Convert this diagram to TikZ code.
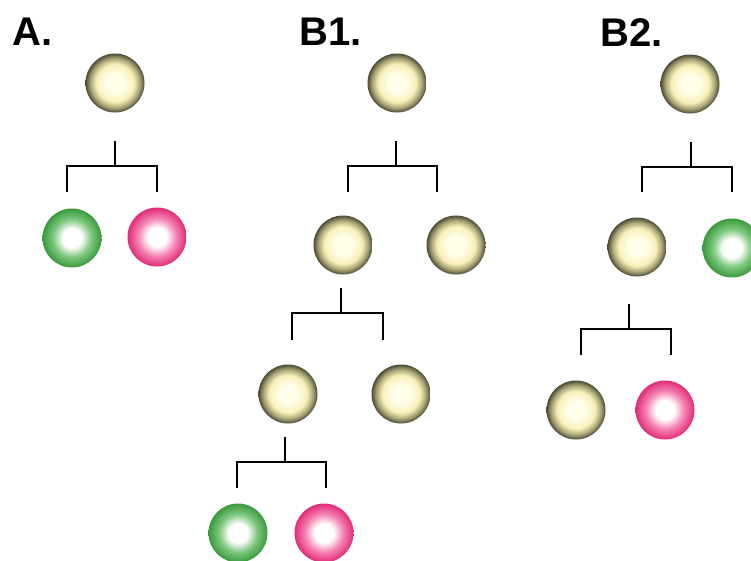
\documentclass[tikz,border=0pt]{standalone}
\usepackage{fontspec}
\usepackage{xcolor}
\setmainfont{Liberation Sans}

\definecolor{creamcore}{HTML}{FFFEE8}
\definecolor{creamring}{HTML}{F8F0B8}
\definecolor{olivemid}{HTML}{A8A476}
\definecolor{oliveedge}{HTML}{4C4B36}
\definecolor{greenmid}{HTML}{80C880}
\definecolor{greenedge}{HTML}{3A9A3C}
\definecolor{pinkmid}{HTML}{F584B4}
\definecolor{pinkedge}{HTML}{E02C78}

\pgfdeclareradialshading{olivecell}{\pgfpoint{0bp}{0bp}}{color(0bp)=(creamcore); color(8bp)=(creamcore); color(16bp)=(creamring); color(21bp)=(olivemid); color(25bp)=(oliveedge); color(50bp)=(oliveedge)}
\pgfdeclareradialshading{greencell}{\pgfpoint{0bp}{0bp}}{color(0bp)=(white); color(8bp)=(white); color(16bp)=(greenmid); color(25bp)=(greenedge); color(50bp)=(greenedge)}
\pgfdeclareradialshading{pinkcell}{\pgfpoint{0bp}{0bp}}{color(0bp)=(white); color(8bp)=(white); color(16bp)=(pinkmid); color(25bp)=(pinkedge); color(50bp)=(pinkedge)}

\begin{document}
\begin{tikzpicture}[
      x = 1pt, y = -1pt,
      cell/.style = {circle, minimum size = 59pt, inner sep = 0pt},
      olive/.style = {cell, shading = olivecell},
      green/.style = {cell, shading = greencell},
      pink/.style = {cell, shading = pinkcell},
      title/.style = {anchor = base west, inner sep = 0pt, font = \bfseries\fontsize{40}{40}\selectfont},
      fork/.style = {line width = 2.4pt}
      ]
      \useasboundingbox (0,0) rectangle (751,560);
      \clip (0,0) rectangle (751,560);

      % labels
      \node[title] (tA) at (12,45) {A.};
      \node[title] (tB1) at (299,45) {B1.};
      \node[title] (tB2) at (600,46) {B2.};

      % A
      \node[olive] (a0) at (115,83) {};
      \node[green] (a1) at (72,238) {};
      \node[pink] (a2) at (157,237) {};
      \coordinate (a0s) at (115,141);
      \coordinate (a1n) at (67,192);
      \coordinate (a2n) at (157,192);
      \draw[fork] (a0s) -- (a0s |- 0,166) -| (a1n);
      \draw[fork] (a0s |- 0,166) -| (a2n);

      % B1
      \node[olive] (b0) at (397,83) {};
      \node[olive] (b1) at (343,245) {};
      \node[olive] (b2) at (456,245) {};
      \node[olive] (b11) at (288,394) {};
      \node[olive] (b12) at (401,394) {};
      \node[green] (b111) at (238,533) {};
      \node[pink] (b112) at (324,533) {};
      \coordinate (b0s) at (396,141);
      \coordinate (b1n) at (348,192);
      \coordinate (b2n) at (437,192);
      \draw[fork] (b0s) -- (b0s |- 0,166) -| (b1n);
      \draw[fork] (b0s |- 0,166) -| (b2n);
      \coordinate (b1s) at (341,288);
      \coordinate (b11n) at (292,340);
      \coordinate (b12n) at (383,340);
      \draw[fork] (b1s) -- (b1s |- 0,313) -| (b11n);
      \draw[fork] (b1s |- 0,313) -| (b12n);
      \coordinate (b11s) at (285,437);
      \coordinate (b111n) at (237,488);
      \coordinate (b112n) at (326,488);
      \draw[fork] (b11s) -- (b11s |- 0,462) -| (b111n);
      \draw[fork] (b11s |- 0,462) -| (b112n);

      % B2
      \node[olive] (c0) at (690,84) {};
      \node[olive] (c1) at (637,247) {};
      \node[green] (c2) at (732,248) {};
      \node[olive] (c11) at (576,410) {};
      \node[pink] (c12) at (665,410) {};
      \coordinate (c0s) at (691,142);
      \coordinate (c1n) at (642,192);
      \coordinate (c2n) at (732,192);
      \draw[fork] (c0s) -- (c0s |- 0,167) -| (c1n);
      \draw[fork] (c0s |- 0,167) -| (c2n);
      \coordinate (c1s) at (629,304);
      \coordinate (c11n) at (581,355);
      \coordinate (c12n) at (671,355);
      \draw[fork] (c1s) -- (c1s |- 0,329) -| (c11n);
      \draw[fork] (c1s |- 0,329) -| (c12n);
    \end{tikzpicture}
\end{document}
